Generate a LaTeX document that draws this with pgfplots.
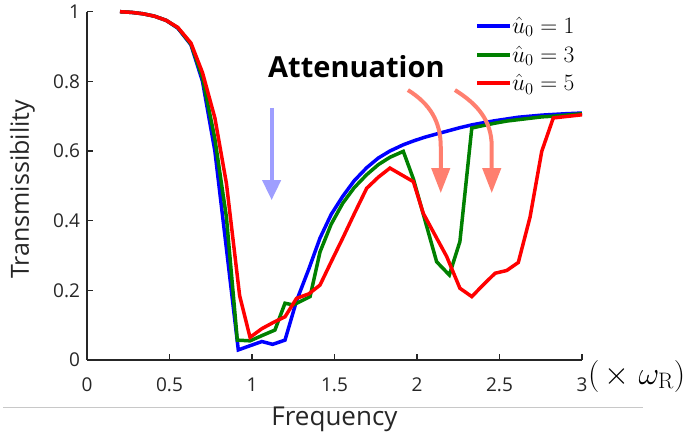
\RequirePackage{fix-cm}
\documentclass[border=0pt]{standalone}
\usepackage[no-math]{fontspec}
\setmainfont{Open Sans}
\usepackage{pgfplots}
\pgfplotsset{compat=1.18}
\usetikzlibrary{arrows.meta}
\definecolor{CBlue}{HTML}{0000FF}
\definecolor{CGreen}{HTML}{008000}
\definecolor{CRed}{HTML}{FF0000}
\definecolor{AxGray}{HTML}{262626}
\definecolor{ArBlue}{HTML}{9E9EFF}
\definecolor{ArRed}{HTML}{FF7F6F}
\definecolor{LineGray}{HTML}{C8C8C8}

\begin{document}
\begin{tikzpicture}
\begin{axis}[
  at={(0,0)},anchor=south west,
  scale only axis,width=495pt,height=348.3pt,
  xmin=0,xmax=3,ymin=0,ymax=1,
  axis x line*=bottom,axis y line*=left,
  axis line style={-,line width=1.4pt,draw=AxGray},
  xtick={0,0.5,1,1.5,2,2.5,3},ytick={0,0.2,0.4,0.6,0.8,1},
  tick align=inside,major tick length=6pt,
  tick style={line width=1.4pt,draw=AxGray},
  tick label style={font=\fontsize{19}{19}\selectfont,text=AxGray},
  /pgf/number format/assume math mode=true,
  xticklabel style={yshift=-14pt},
  yticklabel style={xshift=-3.5pt},
  xlabel={Frequency},
  xlabel style={at={(axis description cs:0.5,-0.1883)},anchor=base,font=\fontsize{26}{26}\selectfont,text=AxGray},
  ylabel={Transmissibility},
  ylabel style={at={(axis description cs:-0.1172,0.49)},anchor=base,font=\fontsize{25}{25}\selectfont,text=AxGray},
  clip=false,
  legend style={at={(rel axis cs:0.784,0.985)},anchor=north west,draw=none,fill=none,
    inner sep=0pt,outer sep=0pt,row sep=11pt,font=\fontsize{23.5}{23.5}\selectfont,nodes={inner sep=0pt}},
  legend cell align=left,
  legend image code/.code={\draw[#1,line width=4pt] (0pt,0pt) -- (33pt,0pt);},
]
% u0 = 1
\addplot[CBlue,line width=3.5pt] coordinates {
(0.20,1.000)(0.27,0.998)(0.34,0.994)(0.41,0.987)(0.48,0.975)(0.55,0.953)(0.63,0.905)(0.70,0.80)
(0.775,0.60)(0.845,0.32)(0.917,0.029)(0.988,0.041)(1.06,0.053)(1.125,0.045)(1.2,0.057)(1.27,0.17)
(1.345,0.262)(1.412,0.35)(1.48,0.418)(1.55,0.47)(1.62,0.515)(1.695,0.552)(1.766,0.58)(1.836,0.60)
(1.917,0.618)(1.985,0.63)(2.05,0.64)(2.119,0.649)(2.19,0.658)(2.26,0.667)(2.332,0.675)(2.40,0.681)
(2.473,0.687)(2.544,0.692)(2.614,0.697)(2.685,0.700)(2.756,0.703)(2.826,0.705)(2.9,0.707)(3.0,0.709)};
\addlegendentry{$\hat{u}_0=1$}
% u0 = 3
\addplot[CGreen,line width=3.5pt] coordinates {
(0.20,1.000)(0.27,0.998)(0.34,0.994)(0.41,0.987)(0.48,0.975)(0.55,0.954)(0.63,0.907)(0.70,0.81)
(0.775,0.635)(0.845,0.41)(0.911,0.057)(0.988,0.055)(1.06,0.07)(1.139,0.086)(1.2,0.163)(1.25,0.158)
(1.352,0.182)(1.412,0.31)(1.48,0.39)(1.55,0.45)(1.62,0.495)(1.695,0.532)(1.766,0.561)(1.836,0.582)
(1.917,0.599)(1.978,0.52)(2.119,0.282)(2.196,0.244)(2.26,0.34)(2.332,0.666)(2.40,0.673)(2.473,0.68)
(2.544,0.686)(2.614,0.69)(2.685,0.694)(2.756,0.698)(2.826,0.70)(2.9,0.703)(3.0,0.707)};
\addlegendentry{$\hat{u}_0=3$}
% u0 = 5
\addplot[CRed,line width=3.5pt] coordinates {
(0.20,1.000)(0.27,0.998)(0.34,0.994)(0.41,0.987)(0.48,0.975)(0.55,0.955)(0.63,0.91)(0.70,0.825)
(0.775,0.695)(0.845,0.507)(0.925,0.185)(0.988,0.065)(1.06,0.09)(1.13,0.108)(1.2,0.124)(1.27,0.177)
(1.345,0.19)(1.412,0.215)(1.48,0.282)(1.55,0.35)(1.62,0.42)(1.695,0.493)(1.766,0.525)(1.836,0.551)
(1.978,0.512)(2.038,0.421)(2.11,0.358)(2.18,0.297)(2.26,0.206)(2.332,0.182)(2.40,0.215)(2.473,0.249)
(2.544,0.257)(2.614,0.28)(2.685,0.41)(2.756,0.599)(2.826,0.695)(3.0,0.704)};
\addlegendentry{$\hat{u}_0=5$}

\node[anchor=base west,inner sep=0pt,font=\bfseries\fontsize{29}{29}\selectfont] at (axis cs:1.097,0.810) {Attenuation};
\draw[ArBlue,line width=4pt,-{Triangle[length=20pt,width=18pt]}] (axis cs:1.119,0.7235) -- (axis cs:1.119,0.459);
\draw[ArRed,line width=4pt,-{Triangle[length=25pt,width=18pt]}] (axis cs:1.945,0.775) to[out=-32,in=90] (axis cs:2.144,0.612) -- (axis cs:2.144,0.479);
\draw[ArRed,line width=4pt,-{Triangle[length=25pt,width=18pt]}] (axis cs:2.230,0.775) to[out=-32,in=90] (axis cs:2.453,0.612) -- (axis cs:2.453,0.479);
\node[anchor=west,inner sep=0pt,font=\fontsize{32}{32}\selectfont] at (axis cs:3.036,-0.046) {$(\,\times\;\omega_{\mathrm{R}})$};
\draw[LineGray,line width=1pt] (axis cs:-0.509,-0.1378) -- (axis cs:3.37,-0.1378);
\end{axis}
\pgfresetboundingbox
\path (-87pt,-75pt) rectangle (601pt,360pt);
\end{tikzpicture}
\end{document}
